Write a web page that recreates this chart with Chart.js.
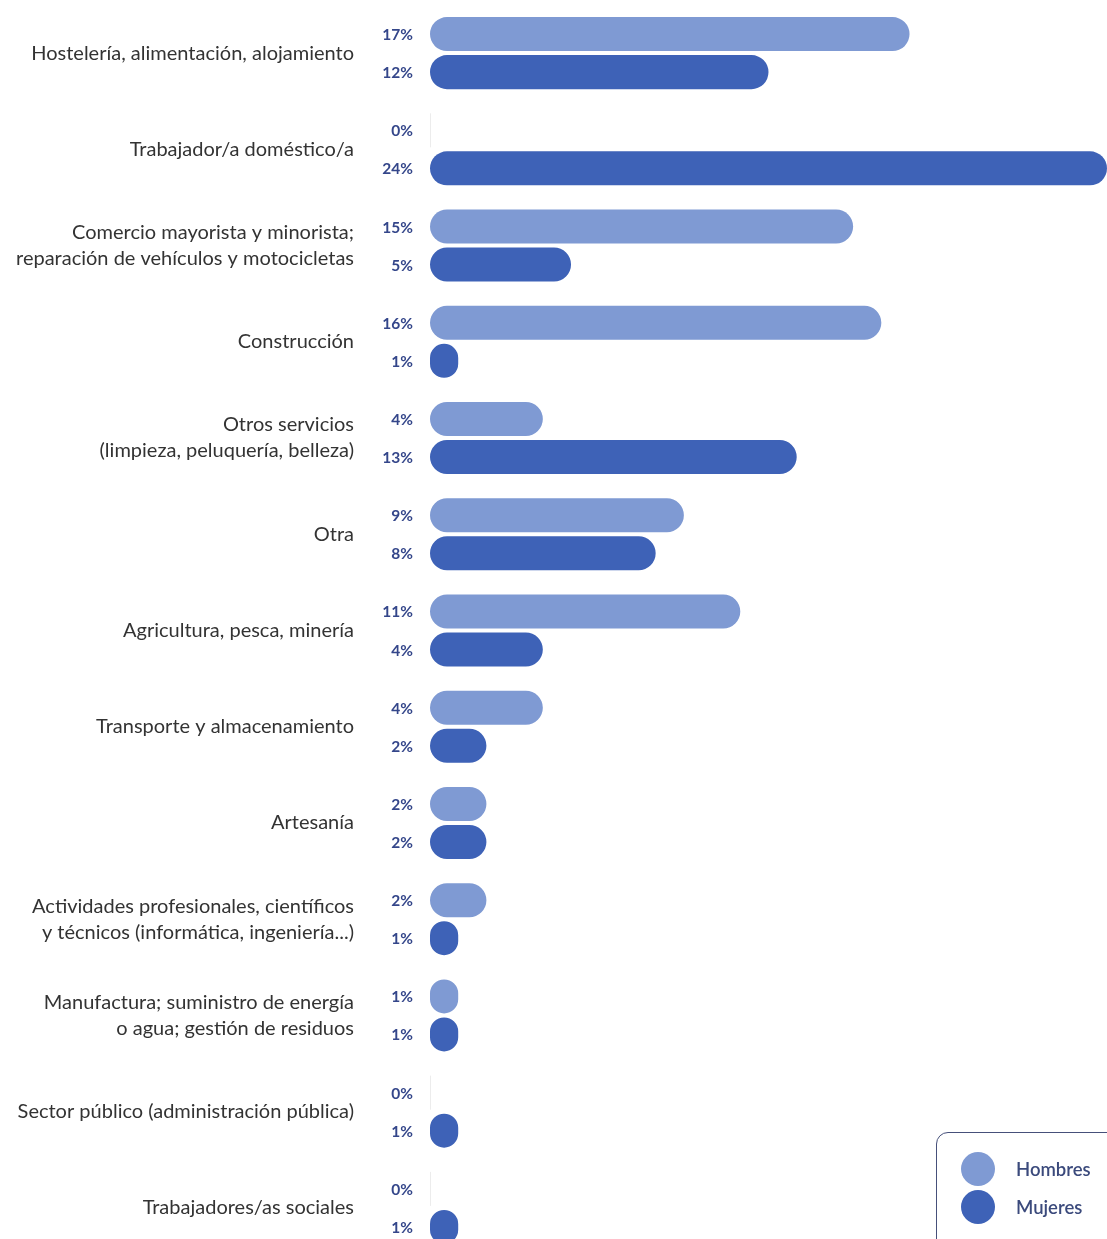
<!DOCTYPE html>
<html lang="es">
<head>
<meta charset="utf-8">
<title>Sector de actividad por sexo</title>
<script src="https://cdn.jsdelivr.net/npm/chart.js@4.4.1/dist/chart.umd.min.js"></script>
<style>
  html, body { margin: 0; padding: 0; background: #ffffff; overflow: hidden; }
  #wrap { position: relative; width: 1107px; height: 1256px; }
  #legend {
    position: absolute; left: 936px; top: 1132px; width: 190px; height: 140px;
    border: 1.5px solid #46507a; border-radius: 12px; box-sizing: border-box;
    font-family: "Lato", "Open Sans", sans-serif; font-size: 18.5px; font-weight: 600; color: #3b4a7c;
  }
  #legend .item { position: absolute; left: 24px; height: 34px; display: flex; align-items: center; }
  #legend .dot { width: 34px; height: 34px; border-radius: 50%; margin-right: 21px; }
</style>
</head>
<body>
<div id="wrap">
  <canvas id="chart" width="1107" height="1256"></canvas>
  <div id="legend">
    <div class="item" style="top:19px"><span class="dot" style="background:#7f9ad3"></span>Hombres</div>
    <div class="item" style="top:57px"><span class="dot" style="background:#3e62b7"></span>Mujeres</div>
  </div>
</div>
<script>
// Sectores de actividad (etiquetas del eje vertical)
const categories = [
  "Hostelería, alimentación, alojamiento",
  "Trabajador/a doméstico/a",
  ["Comercio mayorista y minorista;", "reparación de vehículos y motocicletas"],
  "Construcción",
  ["Otros servicios", "(limpieza, peluquería, belleza)"],
  "Otra",
  "Agricultura, pesca, minería",
  "Transporte y almacenamiento",
  "Artesanía",
  ["Actividades profesionales, científicos", "y técnicos (informática, ingeniería...)"],
  ["Manufactura; suministro de energía", "o agua; gestión de residuos"],
  "Sector público (administración pública)",
  "Trabajadores/as sociales"
];

// Porcentaje de personas ocupadas en cada sector
const hombres = [17, 0, 15, 16, 4, 9, 11, 4, 2, 2, 1, 0, 0];
const mujeres = [12, 24, 5, 1, 13, 8, 4, 2, 2, 1, 1, 1, 1];

const seriesNames = ["Hombres", "Mujeres"];
const xMax = 24;

// Etiquetas de valor a la izquierda de cada barra y trazo fino para los ceros
const valueLabels = {
  id: "valueLabels",
  afterDatasetsDraw(chart) {
    const ctx = chart.ctx;
    const left = chart.chartArea.left;
    ctx.save();
    chart.data.datasets.forEach((ds, di) => {
      const meta = chart.getDatasetMeta(di);
      meta.data.forEach((bar, i) => {
        const v = ds.data[i];
        if (v === 0) {
          ctx.strokeStyle = "#ececec";
          ctx.lineWidth = 1;
          ctx.beginPath();
          ctx.moveTo(left + 0.5, bar.y - bar.height / 2);
          ctx.lineTo(left + 0.5, bar.y + bar.height / 2);
          ctx.stroke();
        }
        ctx.fillStyle = "#34468a";
        ctx.font = "bold 15.5px Lato, 'Open Sans', sans-serif";
        ctx.textAlign = "right";
        ctx.textBaseline = "middle";
        ctx.fillText(v + "%", left - 17, bar.y + 1);
      });
    });
    ctx.restore();
  }
};

new Chart(document.getElementById("chart"), {
  type: "bar",
  data: {
    labels: categories,
    datasets: [
      {
        label: seriesNames[0],
        data: hombres,
        backgroundColor: "#7f9ad3",
        borderRadius: 20,
        borderSkipped: false,
        categoryPercentage: 0.79,
        barPercentage: 0.895
      },
      {
        label: seriesNames[1],
        data: mujeres,
        backgroundColor: "#3e62b7",
        borderRadius: 20,
        borderSkipped: false,
        categoryPercentage: 0.79,
        barPercentage: 0.895
      }
    ]
  },
  options: {
    indexAxis: "y",
    responsive: false,
    animation: false,
    layout: { padding: { top: 5, right: 0, bottom: 0, left: 0 } },
    plugins: {
      legend: { display: false },
      tooltip: { enabled: false }
    },
    scales: {
      x: {
        display: false,
        min: 0,
        max: xMax
      },
      y: {
        afterFit(scale) {
          scale.width = 430;
          scale.paddingTop = 0;
          scale.paddingBottom = 0;
        },
        grid: { display: false, drawTicks: false },
        border: { display: false },
        ticks: {
          padding: 76,
          color: "#333333",
          font: { family: "Lato, 'Open Sans', sans-serif", size: 20, lineHeight: 1.3 }
        }
      }
    }
  },
  plugins: [valueLabels]
});
</script>
</body>
</html>
